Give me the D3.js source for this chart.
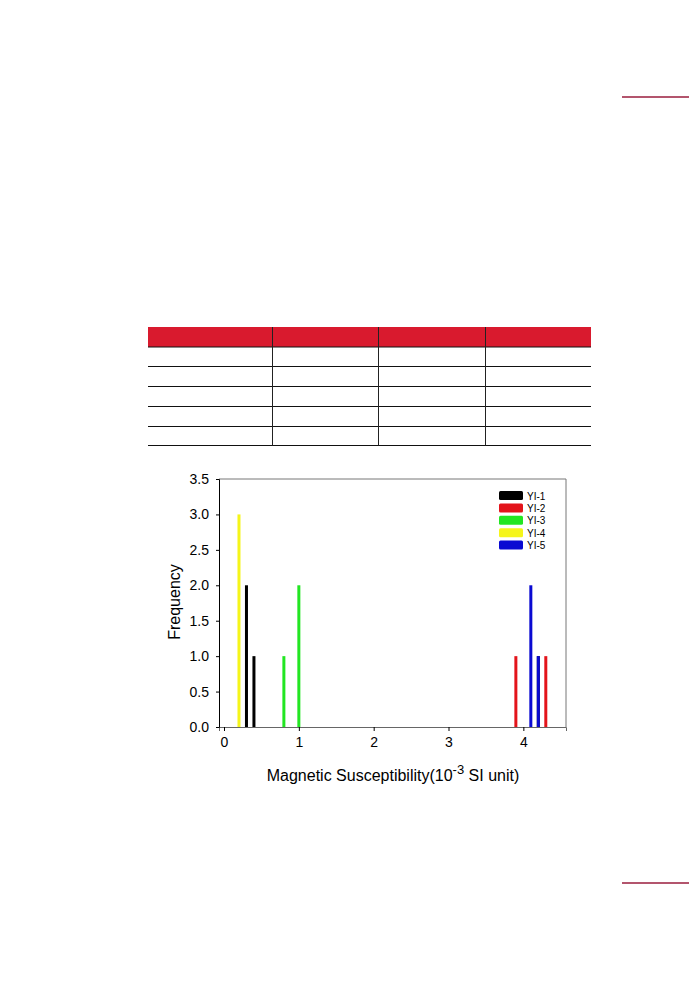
<!doctype html>
<html>
<head>
  <meta charset="utf-8">
  <title>magnetic susceptibility</title>
  <style>
    body { margin: 0; background: #fff; }
    svg { display: block; }
    text { font-family: "Liberation Sans", Arial, sans-serif; }
  </style>
</head>
<body>
  <div id="chart"></div>
  <script src="https://d3js.org/d3.v7.min.js"></script>
  <script>
    // samples and their colours
    const samples = ['YI-1', 'YI-2', 'YI-3', 'YI-4', 'YI-5'];
    const colors = ['#000000', '#e3141b', '#22e622', '#f5f51a', '#0a0ad2'];

    // susceptibility values (10^-3 SI) and frequency for each sample
    const yi1 = [[0.3, 2], [0.4, 1], [4.2, 1]];
    const yi2 = [[3.9, 1], [4.3, 1]];
    const yi3 = [[0.8, 1], [1.0, 2]];
    const yi4 = [[0.2, 3]];
    const yi5 = [[4.1, 2], [4.2, 1]];
    const series = [yi1, yi2, yi3, yi4, yi5];
    // draw order: blue after black so the 4.2 bar shows blue
    const drawOrder = [3, 0, 2, 1, 4];

    const xTicks = [0, 1, 2, 3, 4];
    const yTicks = [0, 0.5, 1, 1.5, 2, 2.5, 3, 3.5];

    const W = 689, H = 990;
    const svg = d3.select('#chart').append('svg').attr('width', W).attr('height', H);

    // page decoration (red rules at right edge)
    svg.append('line').attr('x1', 622).attr('x2', 689).attr('y1', 97).attr('y2', 97)
      .attr('stroke', '#9a1c3c').attr('stroke-width', 1.3);
    svg.append('line').attr('x1', 622).attr('x2', 689).attr('y1', 883).attr('y2', 883)
      .attr('stroke', '#9a1c3c').attr('stroke-width', 1.3);

    // empty table above the chart
    const colX = [148, 272.5, 378.5, 485.5, 591];
    const rowY = [327, 347, 366.5, 386.5, 406.5, 426.5, 445.5];
    svg.append('rect').attr('x', colX[0]).attr('y', rowY[0])
      .attr('width', colX[4] - colX[0]).attr('height', rowY[1] - rowY[0]).attr('fill', '#d91a2e');
    rowY.slice(1).forEach(y => {
      svg.append('line').attr('x1', colX[0]).attr('x2', colX[4]).attr('y1', y).attr('y2', y)
        .attr('stroke', '#111').attr('stroke-width', 1.2);
    });
    colX.slice(1, 4).forEach(x => {
      svg.append('line').attr('x1', x).attr('x2', x).attr('y1', rowY[0]).attr('y2', rowY[rowY.length - 1])
        .attr('stroke', '#222').attr('stroke-width', 1);
    });

    // chart
    const pLeft = 219, pRight = 566, pTop = 479, pBottom = 727;
    const x = d3.scaleLinear().domain([-0.067, 4.57]).range([pLeft, pRight]);
    const y = d3.scaleLinear().domain([0, 3.5]).range([pBottom, pTop]);

    // frame
    svg.append('line').attr('x1', pLeft).attr('x2', pRight).attr('y1', pTop).attr('y2', pTop)
      .attr('stroke', '#777');
    svg.append('line').attr('x1', pRight).attr('x2', pRight).attr('y1', pTop).attr('y2', pBottom)
      .attr('stroke', '#777');

    // bars
    drawOrder.forEach(i => {
      svg.append('g').selectAll('rect').data(series[i]).join('rect')
        .attr('x', d => x(d[0]) - 1.5)
        .attr('y', d => y(d[1]))
        .attr('width', 3)
        .attr('height', d => pBottom - y(d[1]))
        .attr('fill', colors[i]);
    });

    const xAxis = svg.append('g').attr('transform', `translate(0,${pBottom})`)
      .call(d3.axisBottom(x).tickValues(xTicks).tickFormat(d3.format('d')).tickSize(4).tickPadding(6));
    xAxis.select('.domain').attr('stroke', '#666');
    xAxis.selectAll('.tick text').attr('font-size', 14).attr('fill', '#000');

    const yAxis = svg.append('g').attr('transform', `translate(${pLeft},0)`)
      .call(d3.axisLeft(y).tickValues(yTicks).tickFormat(d3.format('.1f')).tickSize(3).tickPadding(7));
    yAxis.select('.domain').attr('stroke', '#000');
    yAxis.selectAll('.tick text').attr('font-size', 14).attr('fill', '#000');

    // axis titles
    svg.append('text').attr('transform', `translate(180,${(pTop + pBottom) / 2 - 1}) rotate(-90)`)
      .attr('text-anchor', 'middle').attr('font-size', 16).text('Frequency');
    const xt = svg.append('text').attr('x', 393).attr('y', 781).attr('text-anchor', 'middle')
      .attr('font-size', 16);
    xt.append('tspan').text('Magnetic Susceptibility(10');
    xt.append('tspan').attr('dy', -7).attr('font-size', 13).text('-3');
    xt.append('tspan').attr('dy', 7).text(' SI unit)');

    // legend
    const legend = svg.append('g').attr('transform', 'translate(499,491)');
    samples.forEach((s, i) => {
      legend.append('rect').attr('x', 0).attr('y', i * 12.4).attr('width', 24).attr('height', 9)
        .attr('rx', 1.5).attr('fill', colors[i]);
      legend.append('text').attr('x', 28).attr('y', i * 12.4 + 8.5).attr('font-size', 10).text(s);
    });
  </script>
</body>
</html>
